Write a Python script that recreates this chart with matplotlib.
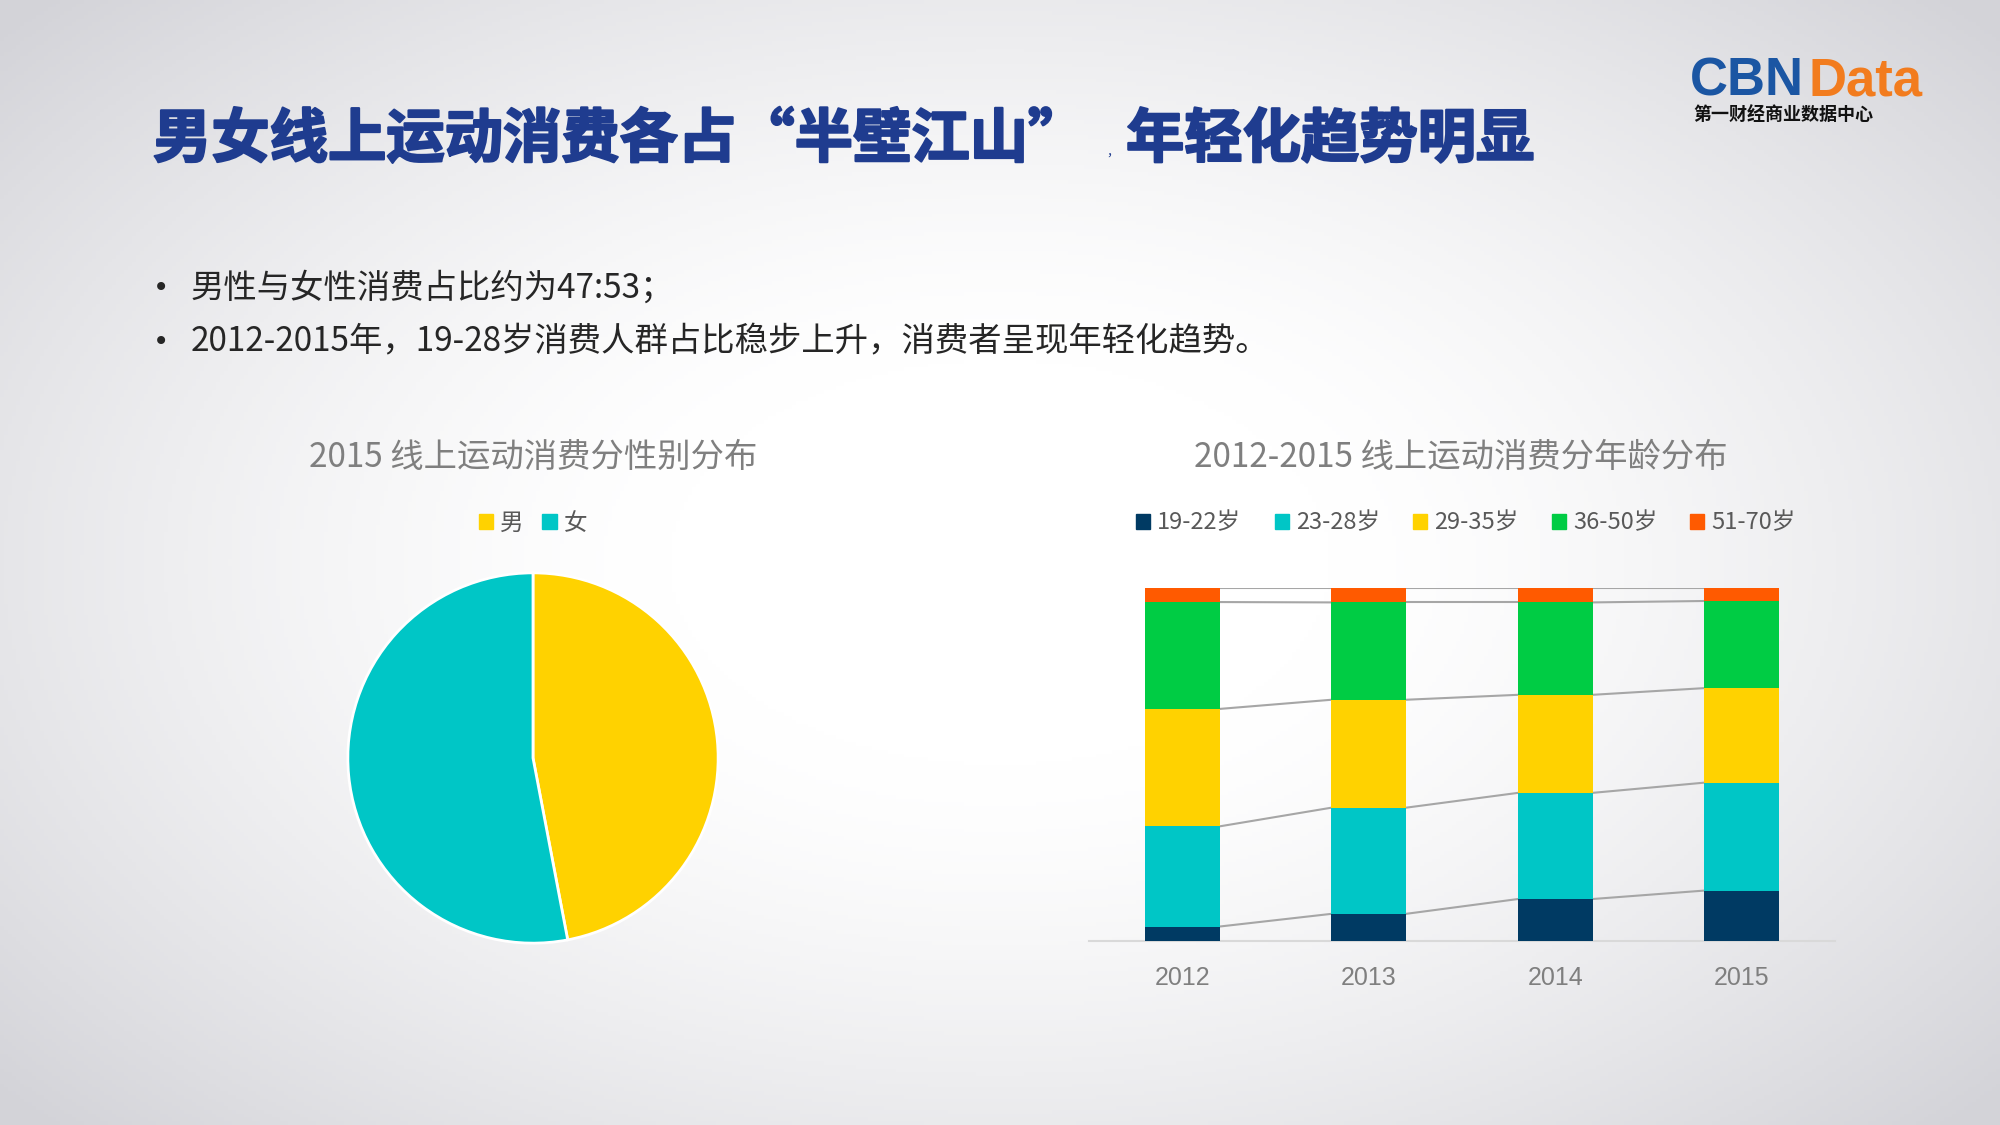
import numpy as np
import matplotlib
matplotlib.use('Agg')
import matplotlib.pyplot as plt
import matplotlib.patheffects as pe
from matplotlib.patches import Patch

plt.rcParams['font.family'] = ['Noto Sans CJK SC', 'DejaVu Sans']

# 数据
gender_labels = ['男', '女']
gender_share = [47, 53]
gender_colors = ['#ffd200', '#00c6c6']

years = ['2012', '2013', '2014', '2015']
age_groups = ['19-22岁', '23-28岁', '29-35岁', '36-50岁', '51-70岁']
age_share = {
    '19-22岁': [4.1, 7.7, 11.9, 14.3],
    '23-28岁': [28.4, 30.1, 30.1, 30.6],
    '29-35岁': [33.3, 30.6, 27.8, 26.8],
    '36-50岁': [30.3, 27.6, 26.2, 24.7],
    '51-70岁': [3.9, 4.0, 4.0, 3.6],
}
age_colors = ['#003a63', '#00c6c6', '#ffd200', '#00cc44', '#ff5a00']

fig = plt.figure(figsize=(20, 11.25), dpi=100)

# 背景渐变
bg = fig.add_axes([0, 0, 1, 1])
yy, xx = np.mgrid[0:1:300j, 0:1:500j]
r = np.sqrt(((xx - 0.5) / 0.55) ** 2 + ((yy - 0.5) / 0.6) ** 2)
t = np.clip((r - 0.3) / 0.9, 0, 1) ** 1.4
img = np.ones((300, 500, 3))
edge = np.array([0.83, 0.83, 0.85])
img = img * (1 - t[..., None]) + edge * t[..., None]
bg.imshow(img, extent=[0, 2000, 0, 1125], aspect='auto', zorder=0)
bg.set_xlim(0, 2000)
bg.set_ylim(0, 1125)
bg.axis('off')

# 标题
title_color = '#1f3c8f'
thick = [pe.withStroke(linewidth=1.6, foreground=title_color)]
bg.text(153, 1125 - 140, '男女线上运动消费各占“半壁江山”', fontsize=42, fontweight='heavy',
        color=title_color, va='center', ha='left', path_effects=thick)
bg.text(1106, 1125 - 152, '，', fontsize=9, color=title_color, va='center', ha='left')
bg.text(1126, 1125 - 140, '年轻化趋势明显', fontsize=42, fontweight='heavy',
        color=title_color, va='center', ha='left', path_effects=thick)

# logo
bg.text(1690, 1125 - 95, 'CBN', fontsize=38, fontweight='bold', color='#1b56a3',
        family='Liberation Sans', va='baseline', ha='left')
bg.text(1809, 1125 - 95, 'Data', fontsize=38, fontweight='bold', color='#f27c1e',
        family='Liberation Sans', va='baseline', ha='left')
bg.text(1693, 1125 - 115, '第一财经商业数据中心', fontsize=13, fontweight='bold',
        color='#111111', va='center', ha='left')

# 要点
bullets = ['男性与女性消费占比约为47:53；',
           '2012-2015年，19-28岁消费人群占比稳步上升，消费者呈现年轻化趋势。']
for i, b in enumerate(bullets):
    y = 1125 - (288 + i * 54)
    bg.text(153, y, '•', fontsize=20, color='#262626', va='center', ha='left',
            family='DejaVu Sans')
    bg.text(191, y, b, fontsize=24, color='#262626', va='center', ha='left')

# 饼图
ax_pie = fig.add_axes([(533 - 187) / 2000, (1125 - 758 - 187) / 1125, 374 / 2000, 374 / 1125])
ax_pie.pie(gender_share, colors=gender_colors, startangle=90, counterclock=False,
           wedgeprops=dict(edgecolor='white', linewidth=2))
ax_pie.set_xlim(-1.01, 1.01)
ax_pie.set_ylim(-1.01, 1.01)
pie_handles = [Patch(color=c) for c in gender_colors]
fig.legend(pie_handles, gender_labels, loc='center', bbox_to_anchor=(533 / 2000, 1 - 523 / 1125),
           ncol=2, frameon=False, fontsize=17, handlelength=0.6, handleheight=0.6,
           handletextpad=0.3, columnspacing=0.8, labelcolor='#595959')

# 堆叠柱状图
ax_bar = fig.add_axes([1089 / 2000, (1125 - 941) / 1125, 746 / 2000, 352.7 / 1125])
x = np.arange(len(years))
bottom = np.zeros(len(years))
w = 0.4
for g, c in zip(age_groups, age_colors):
    vals = np.array(age_share[g])
    ax_bar.bar(x, vals, width=w, bottom=bottom, color=c, zorder=3)
    bottom = bottom + vals
    for i in range(len(years) - 1):
        ax_bar.plot([x[i] + w / 2, x[i + 1] - w / 2], [bottom[i], bottom[i + 1]],
                    color='#a6a6a6', lw=1.5, zorder=2)
ax_bar.set_xlim(-0.5, 3.5)
ax_bar.set_ylim(0, bottom.max())
ax_bar.set_xticks(x)
ax_bar.set_xticklabels(years, fontsize=18, color='#7f7f7f', family='Liberation Sans')
ax_bar.tick_params(axis='x', length=0, pad=18)
ax_bar.set_yticks([])
for s in ['top', 'right', 'left']:
    ax_bar.spines[s].set_visible(False)
ax_bar.spines['bottom'].set_color('#d9d9d9')
ax_bar.spines['bottom'].set_linewidth(1.5)
ax_bar.patch.set_alpha(0)

bar_handles = [Patch(color=c) for c in age_colors]
fig.legend(bar_handles, age_groups, loc='center', bbox_to_anchor=(1466 / 2000, 1 - 523 / 1125),
           ncol=5, frameon=False, fontsize=17, handlelength=0.6, handleheight=0.6,
           handletextpad=0.3, columnspacing=1.4, labelcolor='#595959')

# 子图标题
fig.text(533 / 2000, 1 - 457 / 1125, '2015 线上运动消费分性别分布', fontsize=24,
         color='#7f7f7f', ha='center', va='center')
fig.text(1461 / 2000, 1 - 457 / 1125, '2012-2015 线上运动消费分年龄分布', fontsize=24,
         color='#7f7f7f', ha='center', va='center')

fig.savefig('out.png', dpi=100)
